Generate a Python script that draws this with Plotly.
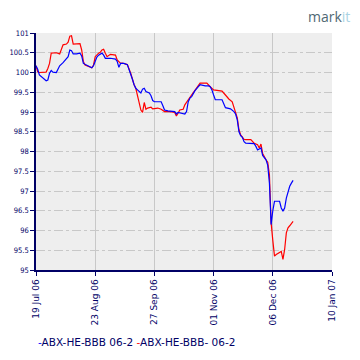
import plotly.graph_objects as go

# ---- data ----
red_name = "ABX-HE-BBB- 06-2"
red_dates = ["2006-07-19", "2006-07-20", "2006-07-21", "2006-07-25", "2006-07-26", "2006-07-27",
             "2006-07-28", "2006-07-31", "2006-08-02", "2006-08-04", "2006-08-06", "2006-08-07",
             "2006-08-08", "2006-08-09", "2006-08-10", "2006-08-14", "2006-08-15", "2006-08-16",
             "2006-08-17", "2006-08-19", "2006-08-21", "2006-08-22", "2006-08-23", "2006-08-25",
             "2006-08-26", "2006-08-27", "2006-08-28", "2006-08-29", "2006-08-30", "2006-09-01",
             "2006-09-04", "2006-09-05", "2006-09-07", "2006-09-08", "2006-09-11", "2006-09-13",
             "2006-09-14", "2006-09-15", "2006-09-16", "2006-09-17", "2006-09-18", "2006-09-19",
             "2006-09-20", "2006-09-21", "2006-09-22", "2006-09-23", "2006-09-25", "2006-09-26",
             "2006-09-29", "2006-10-01", "2006-10-03", "2006-10-06", "2006-10-09", "2006-10-10",
             "2006-10-11", "2006-10-12", "2006-10-14", "2006-10-15", "2006-10-17", "2006-10-19",
             "2006-10-21", "2006-10-23", "2006-10-24", "2006-10-28", "2006-10-29", "2006-10-30",
             "2006-11-01", "2006-11-06", "2006-11-08", "2006-11-10", "2006-11-12", "2006-11-13",
             "2006-11-14", "2006-11-15", "2006-11-16", "2006-11-17", "2006-11-19", "2006-11-20",
             "2006-11-23", "2006-11-24", "2006-11-25", "2006-11-27", "2006-11-28", "2006-11-29",
             "2006-11-30", "2006-12-02", "2006-12-03", "2006-12-04", "2006-12-05", "2006-12-06",
             "2006-12-07", "2006-12-08", "2006-12-10", "2006-12-11", "2006-12-12", "2006-12-13",
             "2006-12-14", "2006-12-15", "2006-12-16", "2006-12-17", "2006-12-18"]
red_values = [100.17, 100.02, 100.0, 100.01, 100.1, 100.23,
              100.49, 100.5, 100.47, 100.7, 100.72, 100.77,
              100.92, 100.93, 100.72, 100.73, 100.57, 100.28,
              100.19, 100.15, 100.12, 100.19, 100.4, 100.49,
              100.51, 100.57, 100.59, 100.49, 100.4, 100.46,
              100.44, 100.32, 100.23, 100.24, 100.2, 99.98,
              99.83, 99.69, 99.6, 99.39, 99.22, 99.05,
              98.99, 99.24, 99.07, 99.1, 99.12, 99.08,
              99.1, 99.07, 99.01, 99.01, 98.99, 98.9,
              98.97, 99.05, 99.07, 99.18, 99.31, 99.43,
              99.58, 99.69, 99.73, 99.73, 99.67, 99.64,
              99.56, 99.53, 99.43, 99.33, 99.26, 99.14,
              99.01, 98.85, 98.55, 98.42, 98.31, 98.3,
              98.3, 98.25, 98.21, 98.17, 98.09, 98.19,
              97.95, 97.79, 97.73, 97.41, 96.2, 95.75,
              95.35, 95.39, 95.43, 95.47, 95.27, 95.52,
              95.94, 96.07, 96.12, 96.19, 96.23]

blue_name = "ABX-HE-BBB 06-2"
blue_dates = ["2006-07-19", "2006-07-20", "2006-07-21", "2006-07-24", "2006-07-25", "2006-07-26",
              "2006-07-27", "2006-07-28", "2006-07-29", "2006-07-31", "2006-08-01", "2006-08-02",
              "2006-08-04", "2006-08-06", "2006-08-07", "2006-08-08", "2006-08-09", "2006-08-10",
              "2006-08-12", "2006-08-14", "2006-08-15", "2006-08-16", "2006-08-17", "2006-08-19",
              "2006-08-21", "2006-08-22", "2006-08-24", "2006-08-25", "2006-08-26", "2006-08-27",
              "2006-08-28", "2006-08-29", "2006-09-01", "2006-09-04", "2006-09-05", "2006-09-06",
              "2006-09-07", "2006-09-09", "2006-09-11", "2006-09-13", "2006-09-14", "2006-09-15",
              "2006-09-16", "2006-09-17", "2006-09-19", "2006-09-20", "2006-09-21", "2006-09-22",
              "2006-09-24", "2006-09-25", "2006-09-26", "2006-09-27", "2006-10-01", "2006-10-02",
              "2006-10-03", "2006-10-05", "2006-10-09", "2006-10-10", "2006-10-11", "2006-10-15",
              "2006-10-16", "2006-10-17", "2006-10-18", "2006-10-19", "2006-10-21", "2006-10-23",
              "2006-10-24", "2006-10-27", "2006-10-29", "2006-10-30", "2006-10-31", "2006-11-01",
              "2006-11-02", "2006-11-06", "2006-11-07", "2006-11-08", "2006-11-11", "2006-11-13",
              "2006-11-14", "2006-11-15", "2006-11-16", "2006-11-17", "2006-11-18", "2006-11-19",
              "2006-11-20", "2006-11-25", "2006-11-26", "2006-11-27", "2006-11-29", "2006-11-30",
              "2006-12-02", "2006-12-03", "2006-12-04", "2006-12-05", "2006-12-06", "2006-12-07",
              "2006-12-10", "2006-12-11", "2006-12-12", "2006-12-13", "2006-12-14", "2006-12-15",
              "2006-12-16", "2006-12-17", "2006-12-18"]
blue_values = [100.17, 100.08, 99.94, 99.81, 99.79, 99.81,
               99.98, 100.05, 100.01, 100.0, 100.07, 100.17,
               100.25, 100.34, 100.4, 100.57, 100.55, 100.47,
               100.47, 100.49, 100.42, 100.23, 100.21, 100.17,
               100.12, 100.17, 100.39, 100.44, 100.47, 100.49,
               100.44, 100.36, 100.36, 100.34, 100.28, 100.13,
               100.23, 100.23, 100.2, 99.98, 99.83, 99.69,
               99.6, 99.56, 99.48, 99.58, 99.6, 99.52,
               99.48, 99.41, 99.29, 99.26, 99.26, 99.16,
               99.05, 99.03, 99.01, 98.95, 98.99, 98.95,
               99.01, 99.26, 99.35, 99.39, 99.54, 99.64,
               99.69, 99.66, 99.66, 99.64, 99.56, 99.43,
               99.31, 99.31, 99.22, 99.11, 99.08, 99.01,
               98.95, 98.8, 98.5, 98.4, 98.36, 98.25,
               98.21, 98.2, 98.13, 98.04, 98.09, 97.9,
               97.79, 97.65, 97.2, 96.15, 96.5, 96.74,
               96.74, 96.57, 96.49, 96.57, 96.82, 96.99,
               97.12, 97.2, 97.27]

x_tick_vals = ["2006-07-19", "2006-08-23", "2006-09-27", "2006-11-01", "2006-12-06", "2007-01-10"]
x_tick_text = ["19 Jul 06", "23 Aug 06", "27 Sep 06", "01 Nov 06", "06 Dec 06", "10 Jan 07"]
y_tick_vals = [95, 95.5, 96, 96.5, 97, 97.5, 98, 98.5, 99, 99.5, 100, 100.5, 101]
y_tick_text = ["95", "95.5", "96", "96.5", "97", "97.5", "98", "98.5", "99", "99.5", "100", "100.5", "101"]

NAVY = "#000066"
GRID = "#c8c8c8"

fig = go.Figure()
fig.add_trace(go.Scatter(x=red_dates, y=red_values, mode="lines", name=red_name,
                         line=dict(color="#ff0000", width=1.2), showlegend=False))
fig.add_trace(go.Scatter(x=blue_dates, y=blue_values, mode="lines", name=blue_name,
                         line=dict(color="#0000ff", width=1.2), showlegend=False))

# the page body has an 8px margin, so the figure is 352x352 and offset accordingly
fig.update_layout(
    width=352, height=352,
    margin=dict(l=28, r=28, t=25, b=89.5, pad=0, autoexpand=False),
    paper_bgcolor="white", plot_bgcolor="#eeeeee",
    font=dict(family="DejaVu Sans", color=NAVY),
    xaxis=dict(
        type="date", range=[x_tick_vals[0], x_tick_vals[-1]],
        tickvals=x_tick_vals, ticktext=x_tick_text, tickangle=-90,
        tickfont=dict(size=9, color=NAVY, family="DejaVu Sans"),
        showgrid=True, gridcolor=GRID, gridwidth=1, automargin=False,
        showline=True, linecolor=NAVY, linewidth=1.5,
        ticks="outside", ticklen=4, tickcolor=NAVY, zeroline=False,
    ),
    yaxis=dict(
        range=[95, 101], tickvals=y_tick_vals, ticktext=y_tick_text,
        tickfont=dict(size=7.5, color=NAVY, family="DejaVu Sans Condensed, DejaVu Sans"),
        showgrid=True, gridcolor=GRID, gridwidth=1, griddash="dashdot", automargin=False,
        showline=True, linecolor=NAVY, linewidth=1.5,
        ticks="outside", ticklen=4, tickcolor=NAVY, zeroline=False,
    ),
)

legend_text = ("<span style='color:#0000ff'>-</span>" + blue_name + " "
               "<span style='color:#ff0000'>-</span>" + red_name)
fig.add_annotation(xref="paper", yref="paper", x=0.0, y=-0.305, xanchor="left", yanchor="middle",
                   text=legend_text, showarrow=False,
                   font=dict(size=10.5, color=NAVY, family="DejaVu Sans"))

fig.add_annotation(xref="paper", yref="paper", x=1.068, y=1.07, xanchor="right", yanchor="middle",
                   text="<span style='color:#4f6874'>mark</span><span style='color:#a9d3e3'>it</span>",
                   showarrow=False, font=dict(size=14, family="Open Sans"))

fig.write_html("out.html")
